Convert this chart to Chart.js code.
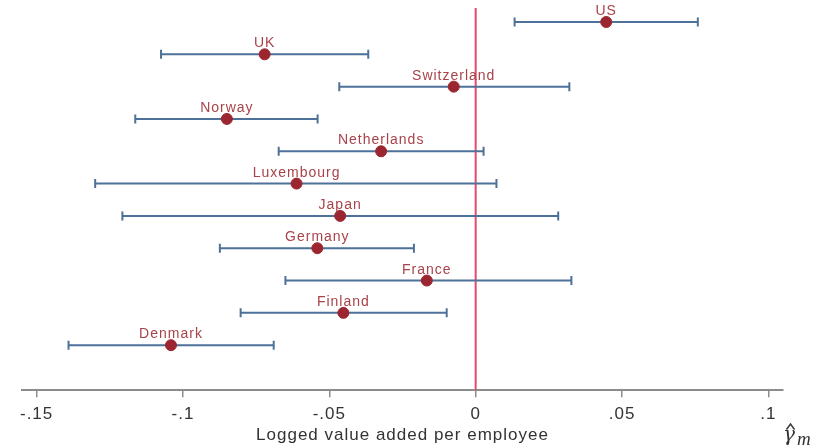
<!DOCTYPE html>
<html>
<head>
<meta charset="utf-8">
<script src="https://cdn.jsdelivr.net/npm/chart.js@4"></script>
<style>
  html, body { margin: 0; padding: 0; background: #fff; }
  #wrap { width: 821px; height: 448px; position: relative; }
</style>
</head>
<body>
<div id="wrap"><canvas id="c" width="821" height="448"></canvas></div>
<script>
// Country estimates with 95% confidence bounds
const countries = ['US', 'UK', 'Switzerland', 'Norway', 'Netherlands', 'Luxembourg', 'Japan', 'Germany', 'France', 'Finland', 'Denmark'];
const estimates = [0.0446, -0.0721, -0.0075, -0.0850, -0.0323, -0.0612, -0.0463, -0.0541, -0.0167, -0.0452, -0.1041];
const lower     = [0.0133, -0.1075, -0.0466, -0.1163, -0.0673, -0.1300, -0.1207, -0.0874, -0.0650, -0.0803, -0.1391];
const upper     = [0.0759, -0.0367, 0.0320, -0.0540, 0.0027, 0.0071, 0.0282, -0.0211, 0.0327, -0.0099, -0.0690];
const xTicks = [-0.15, -0.1, -0.05, 0, 0.05, 0.1];
const xTickLabels = ['-.15', '-.1', '-.05', '0', '.05', '.1'];
const xTitle = 'Logged value added per employee';

const n = countries.length;
const rowOf = i => n - i; // first country sits on the top row

const barColor = '#4d7198';
const pointColor = '#9b2630';
const labelColor = '#a8434a';
const refColor = '#e8486c';
const textColor = '#333333';
const sansFont = '"Liberation Sans", Arial, sans-serif';

const yMin = -0.393, yMax = 11.433;

const datasets = [];
// vertical reference line at zero
datasets.push({
  type: 'line',
  data: [{x: 0, y: yMin}, {x: 0, y: yMax}],
  borderColor: refColor,
  borderWidth: 2,
  pointRadius: 0,
  order: 3
});
// confidence intervals with end caps
countries.forEach((c, i) => {
  datasets.push({
    type: 'line',
    data: [{x: lower[i], y: rowOf(i)}, {x: upper[i], y: rowOf(i)}],
    borderColor: barColor,
    borderWidth: 2,
    pointStyle: 'line',
    rotation: 90,
    pointRadius: 4.5,
    pointBorderColor: barColor,
    pointBorderWidth: 2,
    pointHoverRadius: 4.5,
    order: 2
  });
});
// point estimates
datasets.push({
  type: 'scatter',
  data: countries.map((c, i) => ({x: estimates[i], y: rowOf(i)})),
  backgroundColor: pointColor,
  borderColor: pointColor,
  pointRadius: 5.5,
  pointHoverRadius: 5.5,
  order: 1
});

// slightly widened lettering for all chart text
const spacingPlugin = {
  id: 'letterSpacing',
  beforeDraw(chart) { chart.ctx.letterSpacing = '1px'; }
};

// country names above each estimate
const labelPlugin = {
  id: 'countryLabels',
  afterDatasetsDraw(chart) {
    const ctx = chart.ctx;
    const xs = chart.scales.x, ys = chart.scales.y;
    ctx.save();
    ctx.letterSpacing = '1px';
    ctx.fillStyle = labelColor;
    ctx.font = '14px ' + sansFont;
    ctx.textAlign = 'center';
    ctx.textBaseline = 'alphabetic';
    countries.forEach((c, i) => {
      const px = xs.getPixelForValue(estimates[i]);
      const py = ys.getPixelForValue(rowOf(i));
      ctx.fillText(c, px, py - 7);
    });
    ctx.restore();
  }
};

// coefficient symbol (gamma-hat, subscript m) at the right end of the axis
const symbolPlugin = {
  id: 'gammaSymbol',
  afterDraw(chart) {
    const ctx = chart.ctx;
    ctx.save();
    ctx.letterSpacing = '0px';
    ctx.fillStyle = textColor;
    ctx.strokeStyle = textColor;
    ctx.textAlign = 'left';
    ctx.textBaseline = 'alphabetic';
    ctx.font = 'italic 20px "DejaVu Serif", "Liberation Serif", serif';
    ctx.fillText('γ', 783, 441);
    ctx.lineWidth = 1.4;
    ctx.beginPath();
    ctx.moveTo(786.5, 429.5);
    ctx.lineTo(790.5, 424);
    ctx.lineTo(794.5, 429.5);
    ctx.stroke();
    ctx.font = 'italic 19px "Liberation Serif", serif';
    ctx.fillText('m', 797, 445);
    ctx.restore();
  }
};

new Chart(document.getElementById('c'), {
  type: 'scatter',
  data: { datasets },
  plugins: [spacingPlugin, labelPlugin, symbolPlugin],
  options: {
    responsive: false,
    animation: false,
    events: [],
    layout: { autoPadding: false, padding: { left: 22, right: 38, top: 8, bottom: 2 } },
    plugins: { legend: { display: false }, tooltip: { enabled: false } },
    scales: {
      x: {
        type: 'linear',
        min: -0.155,
        max: 0.105,
        afterBuildTicks(scale) { scale.ticks = xTicks.map(v => ({value: v})); },
        border: { display: true, color: '#8c8c8c', width: 2 },
        grid: { display: true, drawOnChartArea: false, drawTicks: true, tickLength: 7, color: '#8c8c8c', lineWidth: 1.5 },
        ticks: {
          color: textColor,
          font: { family: sansFont, size: 17 },
          padding: 7,
          maxRotation: 0,
          autoSkip: false,
          callback(v) {
            const k = xTicks.findIndex(t => Math.abs(t - v) < 1e-9);
            return k >= 0 ? xTickLabels[k] : '';
          }
        },
        title: {
          display: true,
          text: xTitle,
          color: textColor,
          font: { family: sansFont, size: 17 },
          padding: { top: -6, bottom: 0 }
        }
      },
      y: {
        type: 'linear',
        display: false,
        min: yMin,
        max: yMax
      }
    }
  }
});
</script>
</body>
</html>
